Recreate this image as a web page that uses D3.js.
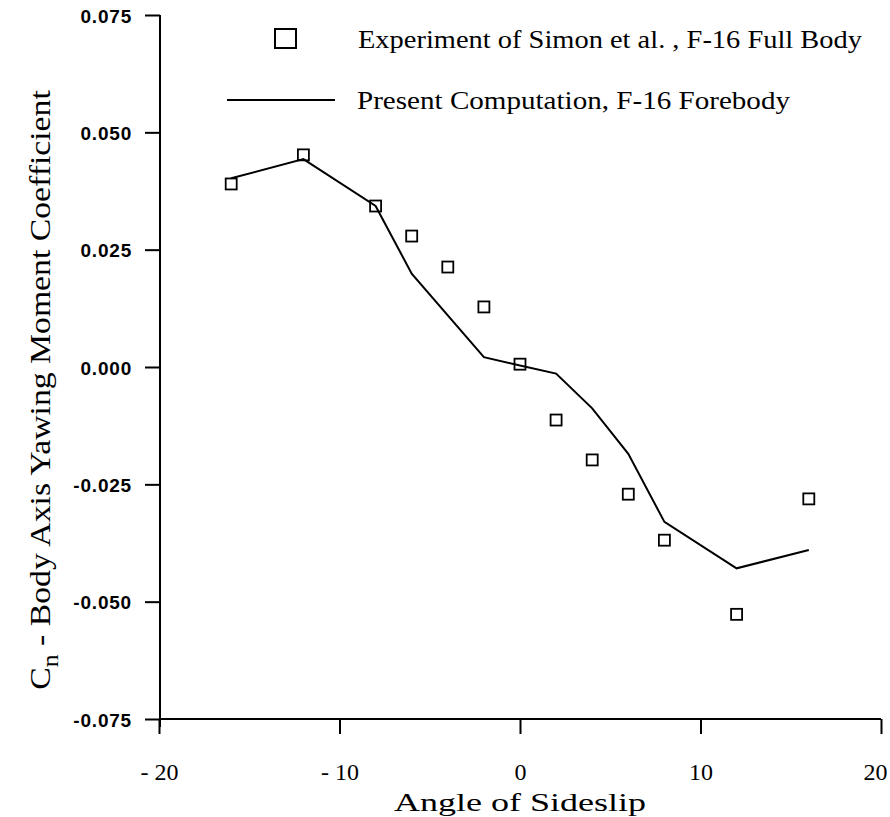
<!DOCTYPE html>
<html><head><meta charset="utf-8">
<script src="https://cdn.jsdelivr.net/npm/d3@7"></script>
<style>body{margin:0;background:#fff}</style>
</head><body>
<svg id="c" width="890" height="817"></svg>
<script>
const expX = [-16, -12, -8, -6, -4, -2, 0, 2, 4, 6, 8, 12, 16];
const expY = [0.039, 0.0452, 0.0343, 0.0279, 0.0213, 0.0128, 0.0006, -0.0113, -0.0198, -0.0271, -0.0369, -0.0527, -0.0281];
const compX = [-16, -12, -8, -6, -2, 0, 2, 4, 6, 8, 12, 16];
const compY = [0.0402, 0.0443, 0.0343, 0.0199, 0.0021, 0.0003, -0.0014, -0.0088, -0.0185, -0.033, -0.0429, -0.039];
const xTicks = [-20, -10, 0, 10, 20];
const xTickLabels = ["- 20", "- 10", "0", "10", "20"];
const yTicks = [0.075, 0.05, 0.025, 0, -0.025, -0.05, -0.075];
const yTickLabels = ["0.075", "0.050", "0.025", "0.000", "-0.025", "-0.050", "-0.075"];
const legendLabels = ["Experiment of Simon et al. ,  F-16 Full Body", "Present Computation, F-16 Forebody"];

const svg = d3.select("#c");
const x = d3.scaleLinear().domain([-20, 20]).range([159, 881]);
const y = d3.scaleLinear().domain([-0.075, 0.075]).range([719, 15]);
const serif = "'Liberation Serif', 'DejaVu Serif', serif";
const sans = "'Liberation Sans', Arial, sans-serif";

// axes
const xAxis = svg.append("g").attr("transform", "translate(0,719)")
  .call(d3.axisBottom(x).tickValues(xTicks).tickSize(15).tickFormat((d, i) => xTickLabels[i]));
xAxis.select(".domain").attr("d", "M159,0H881").attr("stroke-width", 2);
xAxis.selectAll(".tick line").attr("stroke-width", 2);
xAxis.selectAll(".tick text").attr("y", 0).attr("dy", 61)
  .style("font-family", serif).style("font-size", "24px").attr("fill", "#000")
  .attr("text-anchor", (d, i) => i === xTicks.length - 1 ? "end" : "middle")
  .attr("x", (d, i) => i === xTicks.length - 1 ? 6 : 0);

const yAxis = svg.append("g").attr("transform", "translate(160,0)")
  .call(d3.axisLeft(y).tickValues(yTicks).tickSize(15).tickFormat((d, i) => yTickLabels[i]));
yAxis.select(".domain").attr("d", "M0,15V727").attr("stroke-width", 2);
yAxis.selectAll(".tick line").attr("stroke-width", 2);
yAxis.selectAll(".tick text").attr("x", -28).attr("dy", "0.38em")
  .style("font-family", sans).style("font-size", "19px").style("letter-spacing", "0.8px")
  .style("font-weight", "bold").attr("fill", "#000");

// axis titles
svg.append("text").attr("x", 520).attr("y", 811).attr("text-anchor", "middle")
  .style("font-family", serif).style("font-size", "25px").attr("textLength", 252)
  .attr("lengthAdjust", "spacingAndGlyphs").text("Angle of Sideslip");

const ytg = svg.append("g");
const yt = ytg.append("text").attr("text-anchor", "middle")
  .style("font-family", serif).style("font-size", "30px");
yt.append("tspan").text("C");
yt.append("tspan").style("font-size", "23px").attr("dy", 8).text("n");
yt.append("tspan").attr("dy", -8).text(" - Body Axis Yawing Moment Coefficient");
const ytLen = yt.node().getComputedTextLength();
ytg.attr("transform", `translate(50,390) rotate(-90) scale(${600 / ytLen},1)`);

// computation line
const line = d3.line().x((d, i) => x(compX[i])).y(d => y(d));
svg.append("path").datum(compY).attr("d", line).attr("fill", "none")
  .attr("stroke", "#000").attr("stroke-width", 2).attr("stroke-linejoin", "miter");

// experiment squares
svg.selectAll("rect.exp").data(expY).enter().append("rect").attr("class", "exp")
  .attr("x", (d, i) => x(expX[i]) - 5.5).attr("y", d => y(d) - 5.5)
  .attr("width", 11).attr("height", 11)
  .attr("fill", "none").attr("stroke", "#000").attr("stroke-width", 1.8);

// legend
svg.append("rect").attr("x", 275).attr("y", 29).attr("width", 21).attr("height", 19)
  .attr("fill", "none").attr("stroke", "#000").attr("stroke-width", 2);
svg.append("text").attr("x", 358).attr("y", 48).style("font-family", serif).style("font-size", "25px")
  .attr("textLength", 504).attr("lengthAdjust", "spacingAndGlyphs").text(legendLabels[0]);
svg.append("line").attr("x1", 227).attr("x2", 335).attr("y1", 100).attr("y2", 100)
  .attr("stroke", "#000").attr("stroke-width", 2);
svg.append("text").attr("x", 357).attr("y", 109).style("font-family", serif).style("font-size", "25px")
  .attr("textLength", 433).attr("lengthAdjust", "spacingAndGlyphs").text(legendLabels[1]);
</script>
</body></html>
